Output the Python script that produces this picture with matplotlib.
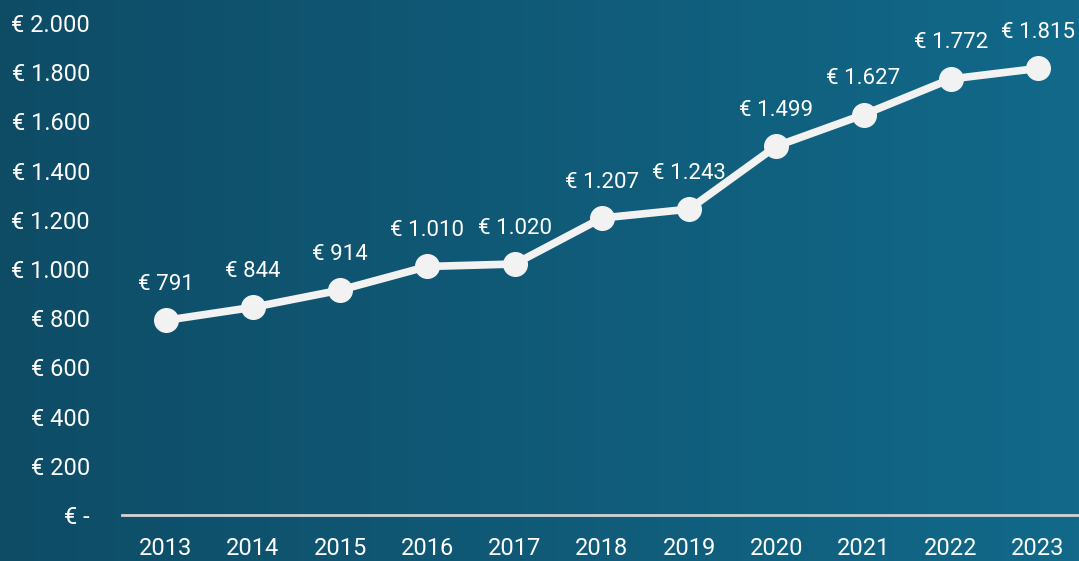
import numpy as np
import matplotlib.pyplot as plt
from matplotlib.colors import LinearSegmentedColormap

years = ['2013', '2014', '2015', '2016', '2017', '2018', '2019', '2020', '2021', '2022', '2023']
values = [791, 844, 914, 1010, 1020, 1207, 1243, 1499, 1627, 1772, 1815]
yticks = [0, 200, 400, 600, 800, 1000, 1200, 1400, 1600, 1800, 2000]


def euro(v):
    if v == 0:
        return "€ -"
    return "€ " + f"{v:,.0f}".replace(",", ".")


plt.rcParams['font.family'] = ['Roboto', 'DejaVu Sans']

fig = plt.figure(figsize=(10.79, 5.61), dpi=100)

# background gradient
bg = fig.add_axes([0, 0, 1, 1])
grad = LinearSegmentedColormap.from_list('bg', ['#0e4c66', '#12698a'])
bg.imshow(np.linspace(0, 1, 256).reshape(1, -1), aspect='auto', cmap=grad,
          extent=[0, 1, 0, 1])
bg.axis('off')

ax = fig.add_axes([122 / 1079, 46 / 561, 957 / 1079, 515 / 561])
ax.patch.set_alpha(0)
x = np.arange(len(years))
ax.plot(x, values, color='#f2f2f2', linewidth=5.5, solid_capstyle='round',
        marker='o', markersize=17, markerfacecolor='#f2f2f2',
        markeredgecolor='#f2f2f2', zorder=3, clip_on=False)

for xi, v in zip(x, values):
    ax.annotate(euro(v), (xi, v), xytext=(0, 36), textcoords='offset pixels',
                ha='center', va='center', color='white', fontsize=16)

ax.set_xlim(-0.5, len(years) - 0.53)
ax.set_ylim(0, 2093)
ax.set_yticks(yticks)
ax.set_yticklabels([euro(v) for v in yticks])
ax.set_xticks(x)
ax.set_xticklabels(years)
ax.tick_params(axis='both', length=0, colors='white', labelsize=17)
ax.tick_params(axis='y', pad=23)
ax.tick_params(axis='x', pad=16)

for s in ['top', 'right', 'left']:
    ax.spines[s].set_visible(False)
ax.spines['bottom'].set_color('#d4d4d4')
ax.spines['bottom'].set_linewidth(2)

fig.savefig('out.png', dpi=100)
